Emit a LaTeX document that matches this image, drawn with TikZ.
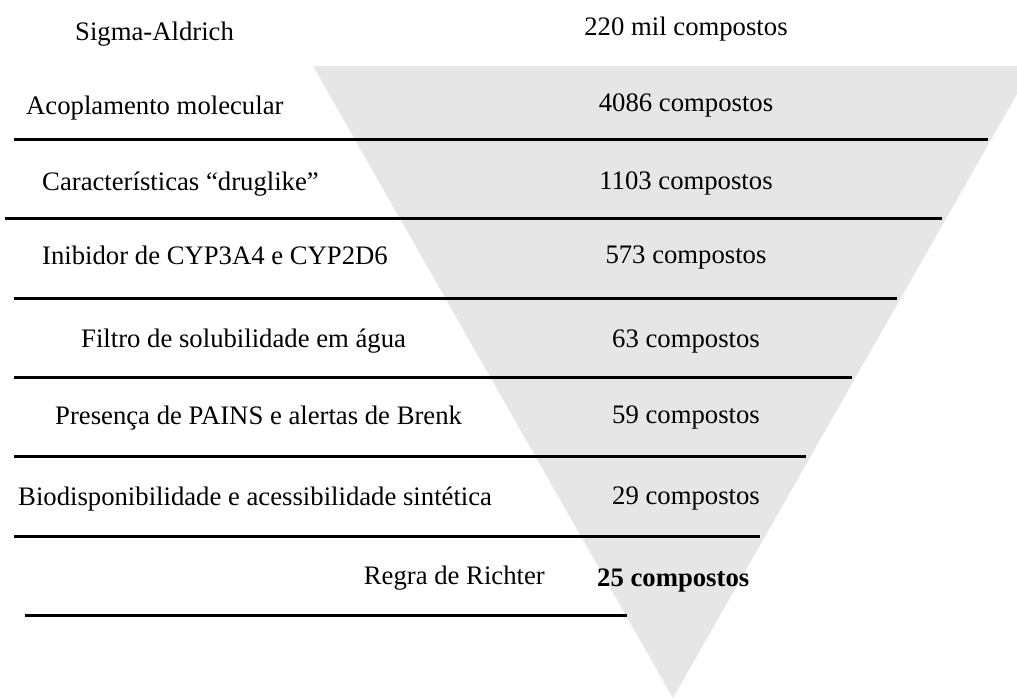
\documentclass[tikz,border=0pt]{standalone}
\usepackage{fontspec}
\setmainfont{Liberation Serif}
\definecolor{funnel}{HTML}{E7E6E6}
\begin{document}
\begin{tikzpicture}[x=1pt,y=-1pt,
  txt/.style={font=\fontsize{26.7}{32}\selectfont, inner sep=0pt},
  lbl/.style={txt, anchor=base west},
  cnt/.style={txt, anchor=base},
  sep/.style={line width=3pt, black}]
\useasboundingbox (0,0) rectangle (1017,699);
\clip (0,0) rectangle (1017,699);
\fill[funnel] (313,66) -- (1033,66) -- (673,698) -- cycle;

\node[lbl] (src) at (75,40) {Sigma-Aldrich};
\node[cnt] (n0) at (686,35) {220 mil compostos};

\node[lbl] (s1) at (26,114) {Acoplamento molecular};
\node[cnt] (n1) at (686,111) {4086 compostos};
\coordinate (a1) at (14,139); \coordinate (b1) at (988,139);
\draw[sep] (a1) -- (b1);

\node[lbl] (s2) at (42,190) {Características “druglike”};
\node[cnt] (n2) at (686,189) {1103 compostos};
\coordinate (a2) at (5,218); \coordinate (b2) at (942,218);
\draw[sep] (a2) -- (b2);

\node[lbl] (s3) at (42,264) {Inibidor de CYP3A4 e CYP2D6};
\node[cnt] (n3) at (686,263) {573 compostos};
\coordinate (a3) at (14,298); \coordinate (b3) at (897,298);
\draw[sep] (a3) -- (b3);

\node[lbl] (s4) at (81,347) {Filtro de solubilidade em água};
\node[cnt] (n4) at (686,347) {63 compostos};
\coordinate (a4) at (14,377); \coordinate (b4) at (852,377);
\draw[sep] (a4) -- (b4);

\node[lbl] (s5) at (55,424) {Presença de PAINS e alertas de Brenk};
\node[cnt] (n5) at (686,423) {59 compostos};
\coordinate (a5) at (14,456); \coordinate (b5) at (806,456);
\draw[sep] (a5) -- (b5);

\node[lbl] (s6) at (18,505) {Biodisponibilidade e acessibilidade sintética};
\node[cnt] (n6) at (686,504) {29 compostos};
\coordinate (a6) at (14,536); \coordinate (b6) at (760,536);
\draw[sep] (a6) -- (b6);

\node[txt, anchor=base east] (s7) at (545,584) {Regra de Richter};
\node[lbl] (n7) at (597,586) {\textbf{25 compostos}};
\coordinate (a7) at (25,615); \coordinate (b7) at (627,615);
\draw[sep] (a7) -- (b7);
\end{tikzpicture}
\end{document}
